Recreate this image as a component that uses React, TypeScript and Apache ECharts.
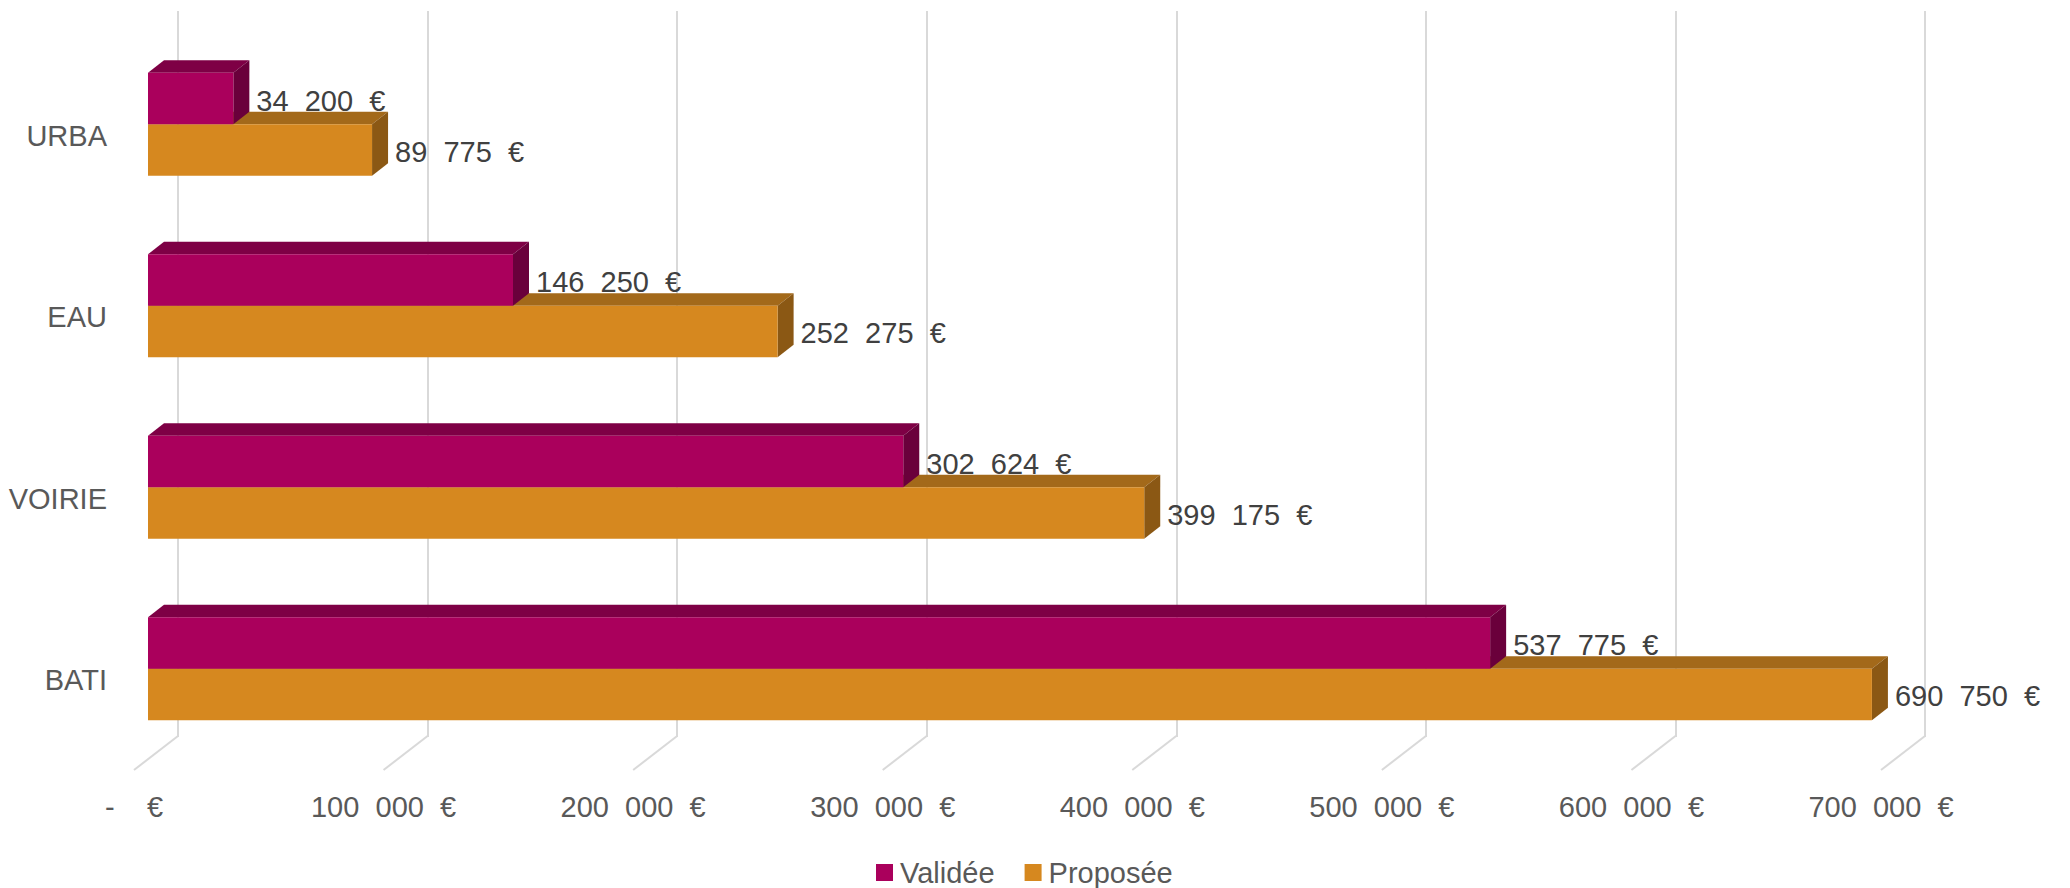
import React, { useEffect, useRef } from "react";
import * as echarts from "echarts";

const categories = ["URBA", "EAU", "VOIRIE", "BATI"];
const validee = [34200, 146250, 302624, 537775];
const proposee = [89775, 252275, 399175, 690750];
const xTicks = [0, 100000, 200000, 300000, 400000, 500000, 600000, 700000];
const seriesNames = ["Validée", "Proposée"];

const FONT = "'Liberation Sans', Arial, sans-serif";
const FS = "\u2007";

function fmt(v: number): string {
  if (v === 0) return "-" + FS + FS + "€";
  const s = Math.round(v)
    .toString()
    .replace(/\B(?=(\d{3})+(?!\d))/g, FS);
  return s + FS + "€";
}

const COLORS = {
  v: { front: "#AA005C", top: "#7E0045", side: "#6A003B" },
  p: { front: "#D6881F", top: "#A3691A", side: "#8B5814" },
};

const DX = 16;
const DY = -12.5;
const BAR_RATIO = 0.2837;

function makeBarRender(kind: "v" | "p") {
  const col = COLORS[kind];
  return (params: any, api: any) => {
    const v = api.value(0);
    const c = api.value(1);
    const p0 = api.coord([0, c]);
    const p1 = api.coord([v, c]);
    const band = api.size([0, 1])[1];
    const h = band * BAR_RATIO;
    const x0 = p0[0];
    const w = p1[0] - p0[0];
    const y0 = kind === "v" ? p0[1] - h : p0[1];
    const x1 = x0 + w;
    const y1 = y0 + h;
    return {
      type: "group",
      children: [
        {
          type: "polygon",
          shape: {
            points: [
              [x0, y0],
              [x1, y0],
              [x1 + DX, y0 + DY],
              [x0 + DX, y0 + DY],
            ],
          },
          style: { fill: col.top },
        },
        {
          type: "polygon",
          shape: {
            points: [
              [x1, y0],
              [x1 + DX, y0 + DY],
              [x1 + DX, y1 + DY],
              [x1, y1],
            ],
          },
          style: { fill: col.side },
        },
        {
          type: "rect",
          shape: { x: x0, y: y0, width: w, height: h },
          style: { fill: col.front },
        },
        {
          type: "text",
          x: x1 + DX + 7,
          y: y0 + h / 2 + 2,
          style: {
            text: fmt(v),
            fill: "#404040",
            fontSize: 29,
            fontFamily: FONT,
            align: "left",
            verticalAlign: "middle",
          },
          z2: 10,
        },
      ],
    };
  };
}

export default function App() {
  const ref = useRef<HTMLDivElement>(null);

  useEffect(() => {
    if (!ref.current) return;
    const chart = echarts.init(ref.current, undefined, { renderer: "svg" });

    const gridW = 1747;
    const gridH = 726;
    const catAxisBase = {
      type: "category" as const,
      data: categories,
      inverse: true,
    };
    const valAxisBase = {
      type: "value" as const,
      min: 0,
      max: 700000,
      interval: 100000,
    };

    chart.setOption({
      animation: false,
      backgroundColor: "#ffffff",
      textStyle: { fontFamily: FONT },
      grid: [
        { left: 178, top: 11, width: gridW, height: gridH },
        { left: 148, top: 33.5, width: gridW, height: gridH },
        { left: 134, top: 45, width: gridW, height: gridH },
      ],
      xAxis: [
        {
          ...valAxisBase,
          gridIndex: 0,
          axisLabel: { show: false },
          axisLine: { show: false },
          axisTick: { show: false },
          splitLine: { show: true, lineStyle: { color: "#D9D9D9", width: 2 } },
        },
        {
          ...valAxisBase,
          gridIndex: 1,
          show: false,
          splitLine: { show: false },
        },
        {
          ...valAxisBase,
          gridIndex: 2,
          axisLine: { show: false },
          axisTick: { show: false },
          splitLine: { show: false },
          axisLabel: {
            formatter: (v: number) => fmt(v),
            fontSize: 29,
            color: "#595959",
            fontFamily: FONT,
            margin: 21,
          },
        },
      ],
      yAxis: [
        { ...catAxisBase, gridIndex: 0, show: false },
        { ...catAxisBase, gridIndex: 1, show: false },
        {
          ...catAxisBase,
          gridIndex: 2,
          axisLine: { show: false },
          axisTick: { show: false },
          splitLine: { show: false },
          axisLabel: {
            fontSize: 29,
            color: "#595959",
            fontFamily: FONT,
            margin: 27,
          },
        },
      ],
      legend: {
        left: 876,
        top: 858,
        padding: 0,
        icon: "rect",
        itemWidth: 17,
        itemHeight: 17,
        itemGap: 30,
        textStyle: {
          fontSize: 29,
          color: "#595959",
          fontFamily: FONT,
          padding: [0, 0, 0, 2],
        },
        data: [
          { name: seriesNames[0], itemStyle: { color: COLORS.v.front } },
          { name: seriesNames[1], itemStyle: { color: COLORS.p.front } },
        ],
      },
      series: [
        {
          type: "custom",
          name: "floor",
          xAxisIndex: 0,
          yAxisIndex: 0,
          z: 1,
          silent: true,
          clip: false,
          data: xTicks.map((t) => [t, 0]),
          encode: { x: 0, y: 1 },
          renderItem: (params: any, api: any) => {
            const x = api.coord([api.value(0), 0])[0];
            const cs = params.coordSys;
            const yb = cs.y + cs.height;
            return {
              type: "line",
              shape: { x1: x, y1: yb - 1, x2: x - 44, y2: yb + 33 },
              style: { stroke: "#D9D9D9", lineWidth: 2 },
            };
          },
        },
        {
          type: "custom",
          name: seriesNames[1],
          xAxisIndex: 1,
          yAxisIndex: 1,
          z: 2,
          clip: false,
          itemStyle: { color: COLORS.p.front },
          data: proposee.map((v, i) => [v, i]),
          encode: { x: 0, y: 1 },
          renderItem: makeBarRender("p"),
        },
        {
          type: "custom",
          name: seriesNames[0],
          xAxisIndex: 1,
          yAxisIndex: 1,
          z: 3,
          clip: false,
          itemStyle: { color: COLORS.v.front },
          data: validee.map((v, i) => [v, i]),
          encode: { x: 0, y: 1 },
          renderItem: makeBarRender("v"),
        },
      ],
    });

    return () => {
      chart.dispose();
    };
  }, []);

  return (
    <div
      ref={ref}
      style={{ position: "absolute", left: 0, top: 0, width: 2070, height: 888 }}
    />
  );
}
